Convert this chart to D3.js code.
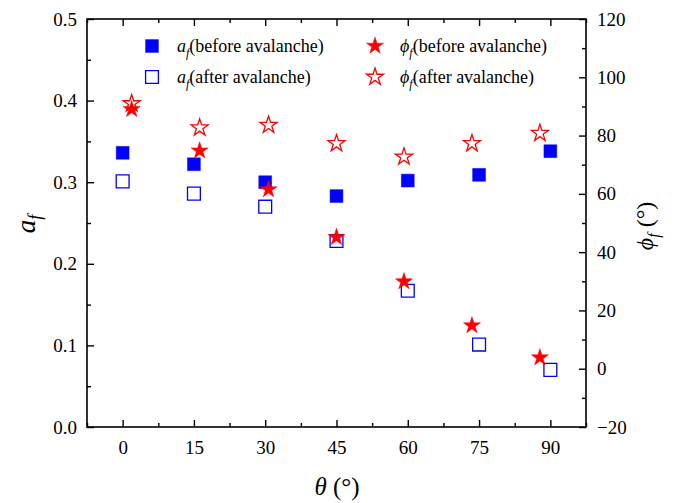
<!DOCTYPE html>
<html>
<head>
<meta charset="utf-8">
<script src="https://cdn.jsdelivr.net/npm/d3@7"></script>
<style>
  body { margin: 0; background: #fff; }
</style>
</head>
<body>
<svg id="chart" width="690" height="503"></svg>
<script>
// a_f data (left axis), squares
const thetaA = [0, 15, 30, 45, 60, 75, 90];
const afBefore = [0.336, 0.322, 0.300, 0.283, 0.302, 0.309, 0.338];
const afAfter = [0.301, 0.286, 0.270, 0.228, 0.167, 0.101, 0.070];

// phi_f data (right axis), stars, drawn slightly offset in theta
const thetaPhi = [1.9, 16.2, 30.7, 45, 59.2, 73.5, 87.8];
const phiBefore = [89.0, 74.8, 61.5, 45.1, 29.9, 14.8, 3.8];
const phiAfter = [91.0, 82.7, 83.6, 77.3, 72.7, 77.3, 80.8];

const xTicks = [0, 15, 30, 45, 60, 75, 90];
const yLeftTicks = [0.0, 0.1, 0.2, 0.3, 0.4, 0.5];
const yRightTicks = [-20, 0, 20, 40, 60, 80, 100, 120];

const blue = '#0000ff', red = '#ff0000';
const serif = 'Liberation Serif';
const margin = {left: 87, top: 19, right: 586, bottom: 427};

const svg = d3.select('#chart').attr('font-family', serif);

const xScale = d3.scaleLinear().domain([-7.5, 97.5]).range([margin.left, margin.right]);
const yScale = d3.scaleLinear().domain([0, 0.5]).range([margin.bottom, margin.top]);
const y2Scale = d3.scaleLinear().domain([-20, 120]).range([margin.bottom, margin.top]);

// frame
svg.append('rect')
    .attr('x', margin.left).attr('y', margin.top)
    .attr('width', margin.right - margin.left)
    .attr('height', margin.bottom - margin.top)
    .attr('fill', 'none').attr('stroke', '#000').attr('stroke-width', 1.6);

const styleAxis = (g) => {
    g.attr('font-family', serif).attr('font-size', 19);
    g.select('.domain').remove();
    g.selectAll('line').attr('stroke', '#000').attr('stroke-width', 1.4);
    g.selectAll('text').attr('fill', '#000').attr('font-family', serif);
};

// bottom axis, ticks inward
const minorX = d3.range(-7.5, 97.6, 7.5).filter(v => !xTicks.includes(v));
svg.append('g').attr('transform', `translate(0,${margin.bottom})`)
    .call(d3.axisBottom(xScale).tickValues(xTicks).tickSizeInner(-7).tickSizeOuter(0).tickPadding(14).tickFormat(d3.format('d')))
    .call(styleAxis);
svg.append('g').attr('transform', `translate(0,${margin.bottom})`)
    .call(d3.axisBottom(xScale).tickValues(minorX).tickSize(-4).tickFormat(''))
    .call(styleAxis);
// top axis
svg.append('g').attr('transform', `translate(0,${margin.top})`)
    .call(d3.axisTop(xScale).tickValues(xTicks).tickSize(-7).tickFormat(''))
    .call(styleAxis);
svg.append('g').attr('transform', `translate(0,${margin.top})`)
    .call(d3.axisTop(xScale).tickValues(minorX).tickSize(-4).tickFormat(''))
    .call(styleAxis);

// left axis
svg.append('g').attr('transform', `translate(${margin.left},0)`)
    .call(d3.axisLeft(yScale).tickValues(yLeftTicks).tickSizeInner(-7).tickSizeOuter(0).tickPadding(10).tickFormat(d3.format('.1f')))
    .call(styleAxis);
svg.append('g').attr('transform', `translate(${margin.left},0)`)
    .call(d3.axisLeft(yScale).tickValues([0.05, 0.15, 0.25, 0.35, 0.45]).tickSize(-4).tickFormat(''))
    .call(styleAxis);

// right axis
svg.append('g').attr('transform', `translate(${margin.right},0)`)
    .call(d3.axisRight(y2Scale).tickValues(yRightTicks).tickSizeInner(-7).tickSizeOuter(0).tickPadding(11).tickFormat(d3.format('d')))
    .call(styleAxis);
svg.append('g').attr('transform', `translate(${margin.right},0)`)
    .call(d3.axisRight(y2Scale).tickValues([-10, 10, 30, 50, 70, 90, 110]).tickSize(-4).tickFormat(''))
    .call(styleAxis);

// axis titles
svg.append('text')
    .attr('transform', `translate(35,224) rotate(-90)`)
    .attr('text-anchor', 'middle')
    .attr('font-size', 27)
    .html('<tspan font-style="italic">a</tspan><tspan font-style="italic" font-size="18" dy="6">f</tspan>');

svg.append('text')
    .attr('transform', `translate(653,226) rotate(-90)`)
    .attr('text-anchor', 'middle')
    .attr('font-size', 24)
    .html('<tspan font-style="italic">ϕ</tspan><tspan font-style="italic" font-size="16" dy="6">f</tspan><tspan dy="-6"> (°)</tspan>');

svg.append('text')
    .attr('x', 337)
    .attr('y', 495)
    .attr('text-anchor', 'middle')
    .attr('font-size', 25)
    .html('<tspan font-style="italic">θ</tspan> (°)');

// markers
const square = d3.symbol().type(d3.symbolSquare).size(165);
const star = d3.symbol().type(d3.symbolStar).size(90);

const drawSeries = (xs, ys, ysc, sym, filled, color) => {
    svg.append('g').selectAll('path')
        .data(xs.map((x, i) => [x, ys[i]]))
        .join('path')
        .attr('d', sym)
        .attr('transform', d => `translate(${xScale(d[0])},${ysc(d[1])})`)
        .attr('fill', filled ? color : 'none')
        .attr('stroke', color)
        .attr('stroke-width', filled ? 0.5 : 1.3);
};

drawSeries(thetaA, afBefore, yScale, square, true, blue);
drawSeries(thetaA, afAfter, yScale, square, false, blue);
drawSeries(thetaPhi, phiAfter, y2Scale, star, false, red);
drawSeries(thetaPhi, phiBefore, y2Scale, star, true, red);

// legend
const legendItems = [
    {x: 152, y: 46, sym: square, filled: true, color: blue, sub: 'a', label: '(before avalanche)'},
    {x: 152, y: 77, sym: square, filled: false, color: blue, sub: 'a', label: '(after avalanche)'},
    {x: 375, y: 46, sym: star, filled: true, color: red, sub: 'ϕ', label: '(before avalanche)'},
    {x: 375, y: 77, sym: star, filled: false, color: red, sub: 'ϕ', label: '(after avalanche)'}
];
const legend = svg.append('g').attr('font-size', 18);
legendItems.forEach(d => {
    legend.append('path')
        .attr('d', d.sym)
        .attr('transform', `translate(${d.x},${d.y})`)
        .attr('fill', d.filled ? d.color : 'none')
        .attr('stroke', d.color)
        .attr('stroke-width', d.filled ? 0.5 : 1.3);
    legend.append('text')
        .attr('x', d.x + 25)
        .attr('y', d.y + 6)
        .html(`<tspan font-style="italic">${d.sub}</tspan><tspan font-style="italic" font-size="12" dy="5">f</tspan><tspan dy="-5">${d.label}</tspan>`);
});
</script>
</body>
</html>
